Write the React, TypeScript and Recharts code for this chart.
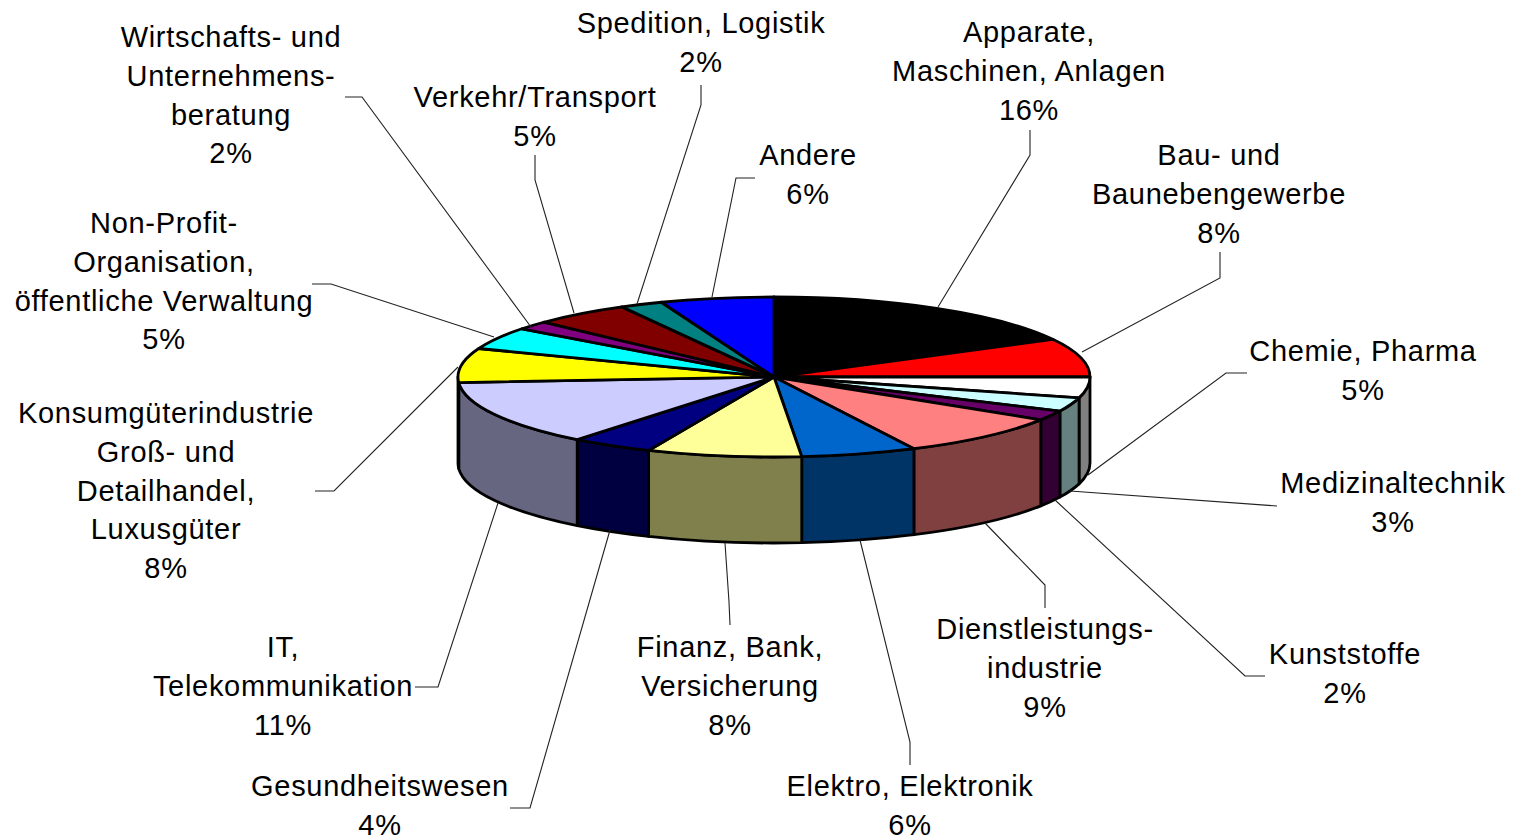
import { PieChart, Pie, Cell } from 'recharts';

const WIDTH = 1514;
const HEIGHT = 837;

const CENTER_X = 774;
const CENTER_Y = 377;
const RADIUS_X = 316;
const RADIUS_Y = 80;
const DEPTH = 86;

const categories = [
  'Apparate', 'Bau', 'Chemie', 'Medizinaltechnik', 'Kunststoffe', 'Dienstleistung', 'Elektro', 'Finanz',
  'Gesundheit', 'IT', 'Konsum', 'Non-Profit', 'Beratung', 'Verkehr', 'Spedition', 'Andere',
];

// slice sizes as they appear in the drawing; the 3D view stretches them a bit away from the printed percentages
const shares = [17.2, 7.8, 4.2, 2.8, 2, 8.7, 5.9, 7.9, 4.2, 13.2, 6.9, 4.5, 1.7, 5, 2.2, 5.8];

const topColors = [
  '#000000', '#ff0000', '#ffffff', '#ccffff', '#660066', '#ff8080', '#0066cc', '#ffff99',
  '#000080', '#ccccff', '#ffff00', '#00ffff', '#800080', '#800000', '#008080', '#0000ff',
];

const sideColors = [
  '#000000', '#800000', '#808080', '#668080', '#330033', '#804040', '#003366', '#80804d',
  '#000040', '#666680', '#808000', '#008080', '#400040', '#400000', '#004040', '#000080',
];

const labelLines = [
  ['Apparate,', 'Maschinen, Anlagen', '16%'],
  ['Bau- und', 'Baunebengewerbe', '8%'],
  ['Chemie, Pharma', '5%'],
  ['Medizinaltechnik', '3%'],
  ['Kunststoffe', '2%'],
  ['Dienstleistungs-', 'industrie', '9%'],
  ['Elektro, Elektronik', '6%'],
  ['Finanz, Bank,', 'Versicherung', '8%'],
  ['Gesundheitswesen', '4%'],
  ['IT,', 'Telekommunikation', '11%'],
  ['Konsumgüterindustrie', 'Groß- und', 'Detailhandel,', 'Luxusgüter', '8%'],
  ['Non-Profit-', 'Organisation,', 'öffentliche Verwaltung', '5%'],
  ['Wirtschafts- und', 'Unternehmens-', 'beratung', '2%'],
  ['Verkehr/Transport', '5%'],
  ['Spedition, Logistik', '2%'],
  ['Andere', '6%'],
];

const labelAnchors = [
  [1029, 32], [1219, 155], [1363, 351], [1393, 483], [1345, 654], [1045, 629], [910, 786], [730, 647],
  [380, 786], [283, 647], [166, 413], [164, 223], [231, 37], [535, 97], [701, 23], [808, 155],
];

const leaderLines = [
  '1030,130 1030,155 938,307',
  '1220,252 1220,278 1082,352',
  '1247,373 1226,373 1088,475',
  '1277,506 1070,491',
  '1265,676 1245,676 1055,500',
  '1045,608 1045,585 985,523',
  '910,765 910,742 860,540',
  '730,625 729,602 725,543',
  '510,808 530,808 610,530',
  '415,687 438,687 498,503',
  '315,491 334,491 458,367',
  '312,284 331,284 494,337',
  '345,97 362,97 531,327',
  '535,155 535,180 574,313',
  '701,85 701,105 637,304',
  '755,178 736,178 712,297',
];

const data = categories.map((name, i) => ({ name, value: shares[i] }));

const FONT = '"Liberation Sans", Arial, sans-serif';

function pointOnEllipse(cx: number, cy: number, angle: number) {
  const rad = (angle * Math.PI) / 180;
  return { x: cx + RADIUS_X * Math.cos(rad), y: cy - RADIUS_Y * Math.sin(rad) };
}

// top face of a slice, squashed to an ellipse
function TopSlice(props: any) {
  const { cx, cy, startAngle, endAngle, fill } = props;
  const a = pointOnEllipse(cx, cy, startAngle);
  const b = pointOnEllipse(cx, cy, endAngle);
  const large = startAngle - endAngle > 180 ? 1 : 0;
  const d = `M${cx},${cy} L${a.x},${a.y} A${RADIUS_X},${RADIUS_Y} 0 ${large} 1 ${b.x},${b.y} Z`;
  return <path d={d} fill={fill} stroke="#000" strokeWidth={2.8} strokeLinejoin="round" />;
}

// outer wall, only the part facing the viewer (angles 0 to -180)
function SideSlice(props: any) {
  const { cx, cy, startAngle, endAngle, fill } = props;
  const from = Math.min(startAngle, 0);
  const to = Math.max(endAngle, -180);
  if (from <= to) return null;
  const a = pointOnEllipse(cx, cy, from);
  const b = pointOnEllipse(cx, cy, to);
  const d = `M${a.x},${a.y} A${RADIUS_X},${RADIUS_Y} 0 0 1 ${b.x},${b.y} L${b.x},${b.y + DEPTH} A${RADIUS_X},${RADIUS_Y} 0 0 0 ${a.x},${a.y + DEPTH} Z`;
  return <path d={d} fill={fill} stroke="#000" strokeWidth={2.8} strokeLinejoin="round" />;
}

function SliceLabel({ index }: any) {
  const [x, y] = labelAnchors[index];
  return (
    <g>
      <polyline points={leaderLines[index]} fill="none" stroke="#222" strokeWidth={1.1} />
      {labelLines[index].map((line, i) => (
        <text
          key={i}
          x={x}
          y={y + 10 + i * 38.8}
          textAnchor="middle"
          fontFamily={FONT}
          fontSize={29}
          letterSpacing={0.7}
          fill="#000"
        >
          {line}
        </text>
      ))}
    </g>
  );
}

export default function App() {
  return (
    <div style={{ position: 'absolute', left: 0, top: 0, width: WIDTH, height: HEIGHT, background: '#fff' }}>
      <PieChart width={WIDTH} height={HEIGHT} margin={{ top: 0, right: 0, bottom: 0, left: 0 }}>
        <Pie
          data={data}
          dataKey="value"
          nameKey="name"
          cx={CENTER_X}
          cy={CENTER_Y}
          outerRadius={RADIUS_X}
          startAngle={90}
          endAngle={-270}
          stroke="none"
          shape={SideSlice}
          isAnimationActive={false}
        >
          {data.map((entry, index) => (
            <Cell key={`side-${entry.name}`} fill={sideColors[index]} />
          ))}
        </Pie>
        <Pie
          data={data}
          dataKey="value"
          nameKey="name"
          cx={CENTER_X}
          cy={CENTER_Y}
          outerRadius={RADIUS_X}
          startAngle={90}
          endAngle={-270}
          stroke="none"
          shape={TopSlice}
          label={SliceLabel}
          labelLine={false}
          isAnimationActive={false}
        >
          {data.map((entry, index) => (
            <Cell key={`top-${entry.name}`} fill={topColors[index]} />
          ))}
        </Pie>
      </PieChart>
    </div>
  );
}
